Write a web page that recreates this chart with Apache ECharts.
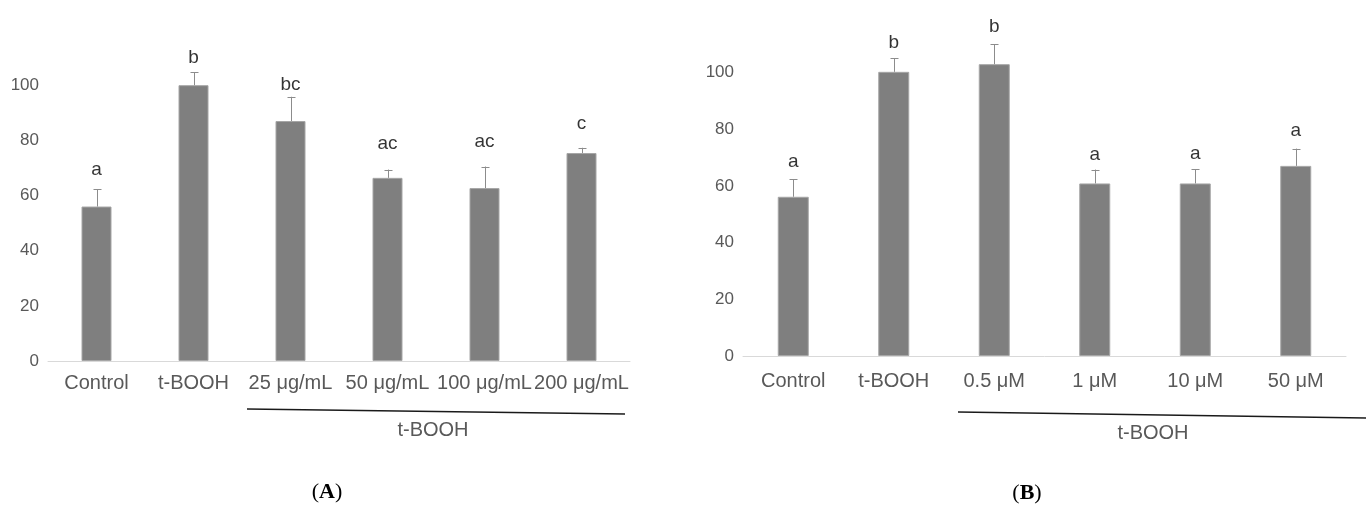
<!DOCTYPE html>
<html>
<head>
<meta charset="utf-8">
<script src="https://cdn.jsdelivr.net/npm/echarts@6/dist/echarts.min.js"></script>
<style>
html,body{margin:0;padding:0;background:#fff;}
#chart{width:1366px;height:508px;}
</style>
</head>
<body>
<div id="chart"></div>
<script>
// ---- Data ----
const catsA = ['Control', 't-BOOH', '25 μg/mL', '50 μg/mL', '100 μg/mL', '200 μg/mL'];
const meanA = [56, 100, 87, 66.4, 62.7, 75.4];
const errA  = [6.2, 4.7, 8.8, 3.0, 7.8, 1.9];
const letA  = ['a', 'b', 'bc', 'ac', 'ac', 'c'];
const letYA = [69.2, 109.8, 100, 78.6, 79.3, 85.9];

const catsB = ['Control', 't-BOOH', '0.5 μM', '1 μM', '10 μM', '50 μM'];
const meanB = [56.2, 100.3, 103, 60.9, 60.9, 67.1];
const errB  = [6.1, 4.8, 7.1, 4.9, 5.1, 6.1];
const letB  = ['a', 'b', 'b', 'a', 'a', 'a'];
const letYB = [68.6, 110.4, 116.3, 71.1, 71.4, 79.4];

const yTicks = [0, 20, 40, 60, 80, 100];
const groupLabel = 't-BOOH';

const FONT = "'Liberation Sans', Arial, sans-serif";
const chart = echarts.init(document.getElementById('chart'));

function errRender(errs) {
  return function (params, api) {
    const i = api.value(0);
    const m = api.value(1);
    const e = errs[params.dataIndex];
    const p0 = api.coord([i, m]);
    const p1 = api.coord([i, m + e]);
    const x = Math.round(p0[0]) + 0.5;
    return {
      type: 'group',
      children: [
        { type: 'line', shape: { x1: x, y1: p0[1], x2: x, y2: p1[1] }, style: { stroke: '#8c8c8c', lineWidth: 1 } },
        { type: 'line', shape: { x1: x - 4, y1: Math.round(p1[1]) + 0.5, x2: x + 4, y2: Math.round(p1[1]) + 0.5 }, style: { stroke: '#8c8c8c', lineWidth: 1 } }
      ]
    };
  };
}

function xAxisCfg(cats, idx, margin) {
  return {
    type: 'category', gridIndex: idx, data: cats,
    axisLine: { lineStyle: { color: '#d9d9d9', width: 1 } },
    axisTick: { show: false },
    axisLabel: { interval: 0, color: '#595959', fontSize: 20, fontFamily: FONT, margin: margin }
  };
}
function yAxisCfg(idx) {
  return {
    type: 'value', gridIndex: idx, min: 0, max: 120, interval: 20,
    axisLine: { show: false }, axisTick: { show: false }, splitLine: { show: false },
    axisLabel: {
      color: '#595959', fontSize: 17, fontFamily: FONT, margin: 9,
      formatter: v => (yTicks.indexOf(v) >= 0 ? String(v) : '')
    }
  };
}

function seriesFor(idx, means, errs, lets, letY, bw) {
  return [
    {
      type: 'bar', xAxisIndex: idx, yAxisIndex: idx, data: means, barWidth: bw,
      itemStyle: { color: '#7f7f7f', borderColor: '#a6a6a6', borderWidth: 1 },
      silent: true
    },
    {
      type: 'custom', xAxisIndex: idx, yAxisIndex: idx, silent: true, clip: false,
      renderItem: errRender(errs),
      data: means.map((m, i) => [i, m]), z: 3
    },
    {
      type: 'scatter', xAxisIndex: idx, yAxisIndex: idx, symbolSize: 0, silent: true,
      data: letY.map((y, i) => [i, y]),
      label: {
        show: true, position: 'inside', color: '#000', fontSize: 19, fontFamily: FONT,
        textBorderWidth: 0,
        formatter: p => lets[p.dataIndex]
      }
    }
  ];
}

const option = {
  animation: false,
  backgroundColor: '#fff',
  grid: [
    { left: 48, top: 30, width: 582, height: 331 },
    { left: 743, top: 16, width: 603, height: 340 }
  ],
  xAxis: [xAxisCfg(catsA, 0, 12), xAxisCfg(catsB, 1, 15)],
  yAxis: [yAxisCfg(0), yAxisCfg(1)],
  series: [].concat(
    seriesFor(0, meanA, errA, letA, letYA, 30),
    seriesFor(1, meanB, errB, letB, letYB, 31)
  ),
  graphic: [
    { type: 'line', shape: { x1: 247, y1: 409, x2: 625, y2: 414 }, style: { stroke: '#1a1a1a', lineWidth: 1.5 } },
    { type: 'line', shape: { x1: 958, y1: 412, x2: 1366, y2: 418 }, style: { stroke: '#1a1a1a', lineWidth: 1.5 } },
    { type: 'text', x: 433, y: 430, style: { text: groupLabel, fill: '#595959', font: "20px " + FONT, align: 'center', verticalAlign: 'middle' } },
    { type: 'text', x: 1153, y: 433, style: { text: groupLabel, fill: '#595959', font: "20px " + FONT, align: 'center', verticalAlign: 'middle' } },
    { type: 'text', x: 327, y: 492, style: {
        text: '{p|(}{b|A}{p|)}', align: 'center', verticalAlign: 'middle',
        rich: { p: { fontFamily: "'Liberation Serif', serif", fontSize: 22, fill: '#000' }, b: { fontFamily: "'Liberation Serif', serif", fontSize: 22, fontWeight: 'bold', fill: '#000' } } } },
    { type: 'text', x: 1027, y: 493, style: {
        text: '{p|(}{b|B}{p|)}', align: 'center', verticalAlign: 'middle',
        rich: { p: { fontFamily: "'Liberation Serif', serif", fontSize: 22, fill: '#000' }, b: { fontFamily: "'Liberation Serif', serif", fontSize: 22, fontWeight: 'bold', fill: '#000' } } } }
  ]
};
chart.setOption(option);
</script>
</body>
</html>
